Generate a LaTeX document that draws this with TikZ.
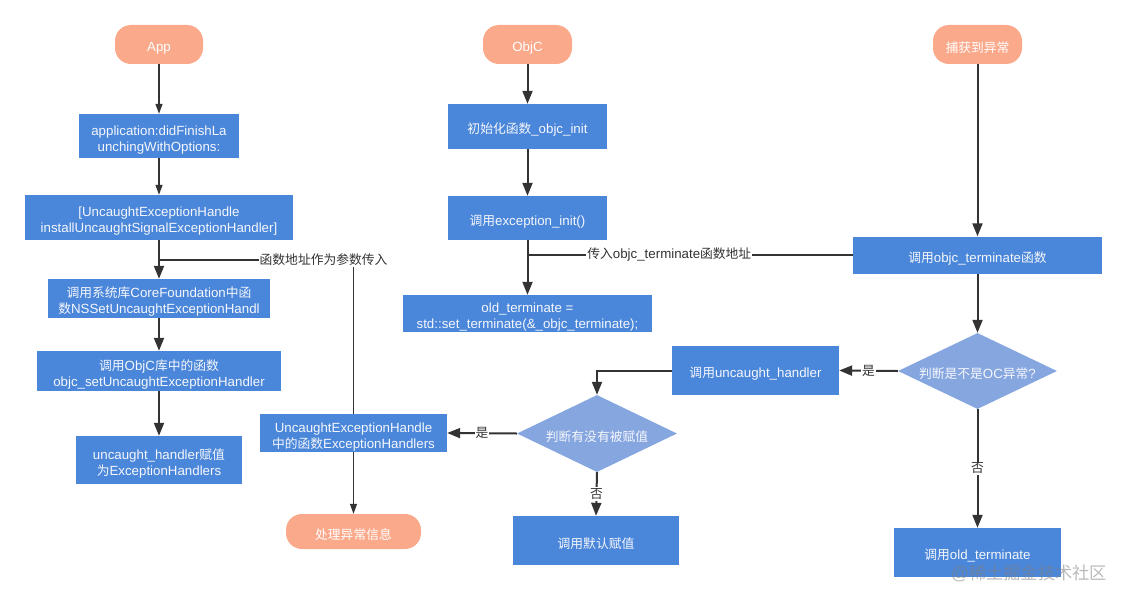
\documentclass[tikz,border=0pt]{standalone}
\usepackage{fontspec}
\setmainfont{Liberation Sans}
\newfontfamily\cjk[Scale=0.96]{Noto Sans CJK SC}
\newcommand\zh[1]{{\cjk #1}}
\newcommand\lift{\rule{0pt}{17pt}}
\usetikzlibrary{shapes.geometric,arrows.meta}
\definecolor{boxblue}{RGB}{74,134,217}
\definecolor{diablue}{RGB}{134,166,224}
\definecolor{pillc}{RGB}{251,169,139}
\definecolor{linec}{RGB}{51,51,51}
\definecolor{boxtext}{RGB}{245,247,252}
\begin{document}
\begin{tikzpicture}[x=1pt,y=-1pt,
 every node/.style={font=\fontsize{13.3}{16}\selectfont, inner sep=0pt, align=center},
 box/.style={fill=boxblue, text=boxtext, draw=none},
 pillbox/.style={fill=pillc, text=white, rounded corners=16pt},
 dia/.style={diamond, fill=diablue, text=boxtext, aspect=2.09},
 conn/.style={draw=linec, line width=2pt, -{Triangle[length=13pt,width=10pt]}},
 thinarrow/.style={draw=linec, line width=1.2pt, -{Triangle[length=10pt,width=7pt]}},
 plainline/.style={draw=linec, line width=1.6pt},
 lbl/.style={fill=white, text=linec, inner sep=1pt, font=\fontsize{13.3}{14}\selectfont}
]
\useasboundingbox (0,0) rectangle (1127,602);

% left column
\node[pillbox, minimum width=88pt, minimum height=39pt] (app) at (159,44.5) {\lift App};
\node[box, minimum width=160pt, minimum height=44pt] (a1) at (159,136) {\lift application:didFinishLa\\unchingWithOptions:};
\node[box, minimum width=268pt, minimum height=45pt] (a2) at (159,217.5) {\lift [UncaughtExceptionHandle\\installUncaughtSignalExceptionHandler]};
\node[box, minimum width=222pt, minimum height=39pt] (a3) at (159,298.5) {\lift\zh{调用系统库}CoreFoundation\zh{中函}\\\zh{数}NSSetUncaughtExceptionHandl};
\node[box, minimum width=244pt, minimum height=40pt] (a4) at (159,371) {\lift\zh{调用}ObjC\zh{库中的函数}\\objc\_setUncaughtExceptionHandler};
\node[box, minimum width=166pt, minimum height=48pt] (a5) at (159,460) {\lift uncaught\_handler\zh{赋值}\\\zh{为}ExceptionHandlers};
\node[box, minimum width=187pt, minimum height=38pt] (ueh) at (353.5,433) {\lift UncaughtExceptionHandle\\\zh{中的函数}ExceptionHandlers};
\node[pillbox, minimum width=135pt, minimum height=35pt] (proc) at (353.5,531.5) {\lift\zh{处理异常信息}};
\coordinate (join1) at (159,260);

% middle column
\node[pillbox, minimum width=89pt, minimum height=39pt] (objc) at (527.5,44.5) {\lift ObjC};
\node[box, minimum width=159pt, minimum height=45pt] (o1) at (527.5,126.5) {\lift\zh{初始化函数}\_objc\_init};
\node[box, minimum width=159pt, minimum height=44pt] (o2) at (527.5,218) {\lift\zh{调用}exception\_init()};
\node[box, minimum width=249pt, minimum height=37pt] (o3) at (527.5,313.5) {\lift old\_terminate =\\std::set\_terminate(\&\_objc\_terminate);};
\coordinate (join2) at (527.5,255);

% right column
\node[pillbox, minimum width=89pt, minimum height=39pt] (catch) at (977.5,44.5) {\lift\zh{捕获到异常}};
\node[box, minimum width=249pt, minimum height=37pt] (c1) at (977.5,255) {\lift\zh{调用}objc\_terminate\zh{函数}};
\node[dia, minimum width=159pt, minimum height=76pt] (d1) at (977.5,371) {\lift\zh{判断是不是}OC\zh{异常}?};
\node[box, minimum width=167pt, minimum height=49pt] (uh) at (755.5,370.5) {\lift\zh{调用}uncaught\_handler};
\node[dia, minimum width=160pt, minimum height=77pt] (d2) at (597,433.5) {\lift\zh{判断有没有被赋值}};
\node[box, minimum width=166pt, minimum height=49pt] (def) at (596,540.5) {\lift\zh{调用默认赋值}};
\node[box, minimum width=167pt, minimum height=49pt] (old) at (977.5,552.5) {\lift\zh{调用}old\_terminate};
\coordinate (bend) at (597,370.5);

% connectors
\draw[thinarrow] (app) -- (a1);
\draw[thinarrow] (a1) -- (a2);
\draw[conn] (a2) -- (a3);
\draw[conn] (a3) -- (a4);
\draw[conn] (a4) -- (a5);
\draw[plainline] (ueh.north) |- node[lbl, pos=0.577] {\zh{函数地址作为参数传入}} (join1);
\draw[thinarrow] (ueh) -- (proc);

\draw[conn] (objc) -- (o1);
\draw[conn] (o1) -- (o2);
\draw[conn] (o2) -- (o3);
\draw[plainline] (c1.west) -- node[lbl, pos=0.564] {\zh{传入}objc\_terminate\zh{函数地址}} (join2);

\draw[conn] (catch) -- (c1);
\draw[conn] (c1) -- (d1);
\draw[conn] (d1.west) -- node[lbl] {\zh{是}} (uh.east);
\draw[conn] (d1.south) -- node[lbl] {\zh{否}} (old.north);
\draw[conn] (uh.west) -- (bend) -- (d2.north);
\draw[conn] (d2.west) -- node[lbl] {\zh{是}} (ueh.east);
\draw[conn] (d2.south) -- node[lbl] {\zh{否}} (def.north);

% watermark
\node[text=gray, opacity=0.55, font=\fontsize{18}{20}\selectfont] (wm) at (1029,573) {@\zh{稀土掘金技术社区}};
\end{tikzpicture}
\end{document}
